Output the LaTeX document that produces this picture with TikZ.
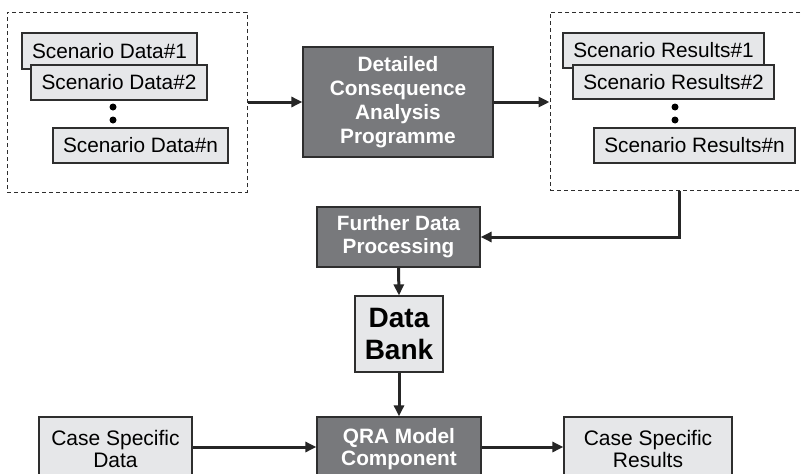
\documentclass[tikz,border=0pt]{standalone}
\usepackage{fontspec}
\setmainfont{Liberation Sans}
\usetikzlibrary{arrows.meta}
\definecolor{darkfill}{HTML}{78797C}
\definecolor{lightfill}{HTML}{E6E7E9}
\definecolor{edge}{HTML}{2E2E2E}
\begin{document}
\begin{tikzpicture}[x=1pt,y=-1pt,
  lbox/.style={draw=edge, line width=1.2pt, fill=lightfill, inner sep=0pt, align=center, text=black,
    font=\fontsize{20.8}{23}\selectfont},
  dbox/.style={draw=edge, line width=1.2pt, fill=darkfill, inner sep=0pt, align=center, text=white,
    font=\fontsize{20.8}{24}\selectfont\bfseries},
  group/.style={draw=edge, line width=1pt, dash pattern=on 4pt off 3pt},
  conn/.style={line width=3pt, draw=black!85, -{Triangle[length=11pt,width=10pt]}},
  dot/.style={circle, fill=black, inner sep=0pt, minimum size=7pt}
]
\clip (0,0) rectangle (801,474);
\fill[white] (0,0) rectangle (801,474);

% left group
\node[group, minimum width=240pt, minimum height=180pt, inner sep=0pt] (lg) at (127,102) {};
\node[lbox, minimum width=175pt, minimum height=36pt] (d1) at (109.5,51) {Scenario Data\#1};
\node[lbox, minimum width=176pt, minimum height=35pt] (d2) at (119,82.5) {Scenario Data\#2};
\node[dot] (ld1) at (113,107) {};
\node[dot] (ld2) at (113,120) {};
\node[lbox, minimum width=175pt, minimum height=35pt] (dn) at (140.5,145.5) {Scenario Data\#n};

% DCAP
\node[dbox, minimum width=190pt, minimum height=110pt] (dcap) at (398,102) {Detailed\\Consequence\\Analysis\\Programme};

% right group
\node[group, minimum width=260pt, minimum height=178pt, inner sep=0pt] (rg) at (680,101) {};
\node[lbox, minimum width=201pt, minimum height=35pt] (r1) at (663.5,50.5) {Scenario Results\#1};
\node[lbox, minimum width=201pt, minimum height=34pt] (r2) at (673.5,82) {Scenario Results\#2};
\node[dot] (rd1) at (675,107) {};
\node[dot] (rd2) at (675,120) {};
\node[lbox, minimum width=201pt, minimum height=35pt] (rn) at (694.5,145.5) {Scenario Results\#n};

% further data processing
\node[dbox, minimum width=163pt, minimum height=60pt, font=\fontsize{20.7}{23}\selectfont\bfseries] (fdp) at (398.5,237) {Further Data\\Processing};

% data bank
\node[lbox, minimum width=88pt, minimum height=76pt, font=\fontsize{28}{31.5}\selectfont\bfseries] (db) at (399,334) {Data\\Bank};

% bottom row
\node[lbox, minimum width=153pt, minimum height=64pt, font=\fontsize{21}{22.7}\selectfont] (csd) at (115.5,449) {Case Specific\\Data};
\node[dbox, minimum width=164pt, minimum height=64pt, font=\fontsize{20.8}{22.7}\selectfont\bfseries] (qra) at (399,449) {QRA Model\\Component};
\node[lbox, minimum width=168pt, minimum height=64pt, font=\fontsize{21}{22.7}\selectfont] (csr) at (648,449) {Case Specific\\Results};

% connectors
\draw[conn] (lg.east |- dcap.west) -- (dcap.west);
\draw[conn] (dcap.east) -- (dcap.east -| rg.west);
\coordinate (bend) at (679,237);
\draw[conn] (rg.south -| bend) -- (bend) -- (fdp.east |- bend);
\draw[conn] (fdp.south) -- (db.north);
\draw[conn] (db.south) -- (qra.north);
\draw[conn] (csd.east |- 0,447) -- (qra.west |- 0,447);
\draw[conn] (qra.east |- 0,447) -- (csr.west |- 0,447);
\end{tikzpicture}
\end{document}
